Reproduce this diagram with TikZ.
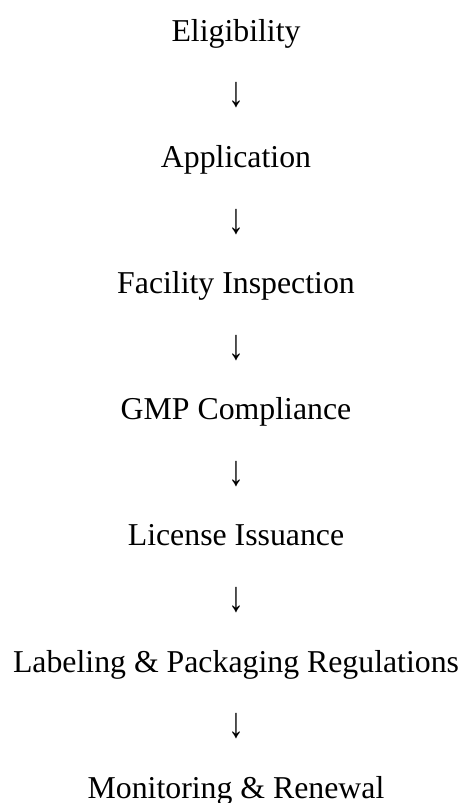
\documentclass[tikz,border=0pt]{standalone}
\usepackage{fontspec}
\setmainfont{Liberation Serif}
\usetikzlibrary{calc}
\tikzset{
  stage/.style={anchor=base, inner sep=0pt, font=\fontsize{31.8}{38}\selectfont},
  flowarrow/.style={anchor=center, inner sep=0pt, font=\fontsize{31.8}{38}\selectfont}
}
\begin{document}
\begin{tikzpicture}[x=1pt,y=1pt]
  \useasboundingbox (0,0) rectangle (464,-803);
  % process stages, one baseline every 126.2pt
  \node[stage] (s1) at (236,-41.0)  {Eligibility};
  \node[stage] (s2) at (236,-167.2) {Application};
  \node[stage] (s3) at (236,-293.4) {Facility Inspection};
  \node[stage] (s4) at (236,-419.6) {GMP Compliance};
  \node[stage] (s5) at (236,-545.8) {License Issuance};
  \node[stage] (s6) at (236,-672.0) {Labeling \& Packaging Regulations};
  \node[stage] (s7) at (236,-798.2) {Monitoring \& Renewal};
  % downward arrows set between consecutive stages
  \foreach \a/\b in {s1/s2,s2/s3,s3/s4,s4/s5,s5/s6,s6/s7}
    \node[flowarrow] (\a-\b) at ($(\a.base)!0.5!(\b.base)+(0,8.6)$) {\scalebox{1}[1.35]{↓}};
\end{tikzpicture}
\end{document}
